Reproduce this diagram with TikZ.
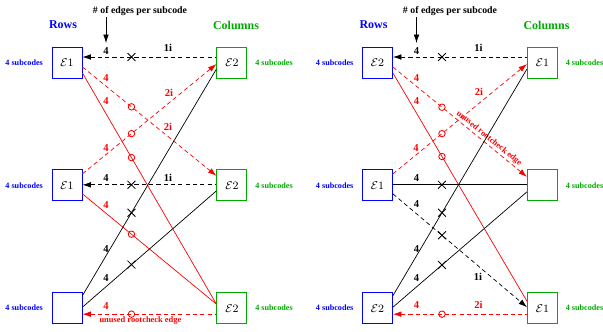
\documentclass[tikz,border=0pt]{standalone}
\usepackage{fontspec}
\setmainfont{Liberation Serif}
\usetikzlibrary{positioning,arrows.meta,shapes.misc,calc}

\definecolor{rowblue}{RGB}{0,0,255}
\definecolor{colgreen}{RGB}{0,170,0}

\tikzset{
  rowbox/.style={draw=rowblue, line width=0.65pt, minimum width=21.3pt, minimum height=22pt,
    inner sep=0pt, font=\fontsize{8.5}{9}\selectfont},
  colbox/.style={rowbox, draw=colgreen},
  headtxt/.style={font=\fontsize{8.5}{10}\selectfont\bfseries, inner sep=0pt},
  toptxt/.style={font=\fontsize{7}{8}\selectfont\bfseries, inner sep=1pt},
  subc/.style={font=\fontsize{5.8}{7}\selectfont\bfseries, inner sep=0pt},
  lbl/.style={font=\fontsize{7.5}{8}\selectfont\bfseries, inner sep=1pt},
  unused/.style={font=\fontsize{6}{7}\selectfont\bfseries, inner sep=1pt, text=red},
  wire/.style={line width=0.5pt},
  dashwire/.style={wire, dash pattern=on 3pt off 2.2pt},
  fwdtip/.style={-{Latex[length=6pt,width=4pt]}},
  backtip/.style={{Latex[length=6pt,width=4pt]}-},
  xmark/.style={draw=black, solid, cross out, minimum size=5pt, inner sep=0pt, line width=0.6pt},
  omark/.style={draw=red, solid, circle, minimum size=4.6pt, inner sep=0pt, line width=0.6pt},
}

\begin{document}
\begin{tikzpicture}[x=0.025cm, y=-0.025cm]
\useasboundingbox (0,0) rectangle (603,331);

%% LEFT PANEL
\node[rowbox] (rowA1) at (67,62.5) {$\mathcal{E}1$};
\node[rowbox, below=64.7pt of rowA1] (rowA2) {$\mathcal{E}1$};
\node[rowbox, below=64.7pt of rowA2] (rowA3) {};
\node[colbox, right=95.3pt of rowA1] (colA1) {$\mathcal{E}2$};
\node[colbox, right=95.3pt of rowA2] (colA2) {$\mathcal{E}2$};
\node[colbox, right=95.3pt of rowA3] (colA3) {$\mathcal{E}2$};

\node[headtxt, text=rowblue] (rowsA) at (63,25) {Rows};
\node[headtxt, text=colgreen] (colsA) at (236,25) {Columns};
\node[toptxt] (hdrA) at (140,11) {\# of edges per subcode};
\foreach \i in {1,2,3} {
  \node[subc, text=rowblue, left=6pt of rowA\i] (subrA\i) {4 subcodes};
  \node[subc, text=colgreen, right=5.5pt of colA\i] (subcA\i) {4 subcodes};
}

% edge labels
\node[lbl] (lA1) at (106,51) {4};
\node[lbl, text=red] (lA2) at (106,78) {4};
\node[lbl, text=red] (lA3) at (106,101) {4};
\node[lbl, text=red] (lA4) at (106,148) {4};
\node[lbl] (lA5) at (106,178) {4};
\node[lbl, text=red] (lA6) at (106,205) {4};
\node[lbl] (lA7) at (106,249) {4};
\node[lbl] (lA8) at (106,278) {4};
\node[lbl, text=red] (lA9) at (106,306) {4};
\node[lbl] (iA1) at (168,48) {1i};
\node[lbl, text=red] (iA2) at (169,93) {2i};
\node[lbl, text=red] (iA3) at (168,127) {2i};
\node[lbl] (iA4) at (168,178) {1i};

\draw[wire, fwdtip, shorten >=2pt] (hdrA.south -| lA1) -- (lA1.north);

% edges
\draw[dashwire, backtip] ($(rowA1.east)+(0,-5.5)$) -- ($(colA1.west)+(0,-5.5)$) node[pos=.366, xmark] (mA1) {};
\draw[dashwire, fwdtip, red] ($(rowA1.east)+(0,4.5)$) -- ($(colA2.west)+(0,-9.5)$) node[pos=.366, omark] (mA2) {};
\draw[wire, red] ($(rowA1.east)+(0,10.5)$) -- ($(colA3.west)+(0,-4)$) node[pos=.366, omark] (mA3) {};
\draw[dashwire, fwdtip, red] ($(rowA2.east)+(0,-11.5)$) -- ($(colA1.west)+(0,1.5)$) node[pos=.366, omark] (mA4) {};
\draw[dashwire, backtip] ($(rowA2.east)+(0,-0.5)$) -- ($(colA2.west)+(0,-0.5)$) node[pos=.366, xmark] (mA5) {};
\draw[wire, red] ($(rowA2.east)+(0,8.5)$) -- ($(colA3.west)+(0,-4)$) node[pos=.366, omark] (mA6) {};
\draw[wire] ($(rowA3.east)+(0,-12.5)$) -- ($(colA1.west)+(0,6.5)$) node[pos=.366, xmark] (mA7) {};
\draw[wire] ($(rowA3.east)+(0,-1)$) -- ($(colA2.west)+(0,5.5)$) node[pos=.366, xmark] (mA8) {};
\draw[dashwire, backtip, red] ($(rowA3.east)+(0,6)$) -- ($(colA3.west)+(0,6)$)
  node[pos=.366, omark] (mA9) {}
  node[pos=.433, below=0.5pt, unused] (uA) {unused rootcheck edge};

%% RIGHT PANEL
\node[rowbox] (rowB1) at (377.5,62.5) {$\mathcal{E}2$};
\node[rowbox, below=64.7pt of rowB1] (rowB2) {$\mathcal{E}1$};
\node[rowbox, below=64.7pt of rowB2] (rowB3) {$\mathcal{E}2$};
\node[colbox, right=95.3pt of rowB1] (colB1) {$\mathcal{E}1$};
\node[colbox, right=95.3pt of rowB2] (colB2) {};
\node[colbox, right=95.3pt of rowB3] (colB3) {$\mathcal{E}1$};

\node[headtxt, text=rowblue] (rowsB) at (373.5,25) {Rows};
\node[headtxt, text=colgreen] (colsB) at (546.5,25) {Columns};
\node[toptxt] (hdrB) at (450,11) {\# of edges per subcode};
\foreach \i in {1,2,3} {
  \node[subc, text=rowblue, left=6pt of rowB\i] (subrB\i) {4 subcodes};
  \node[subc, text=colgreen, right=5.5pt of colB\i] (subcB\i) {4 subcodes};
}

% edge labels
\node[lbl] (lB1) at (416.5,51) {4};
\node[lbl, text=red] (lB2) at (416.5,78) {4};
\node[lbl, text=red] (lB3) at (416.5,101) {4};
\node[lbl, text=red] (lB4) at (416,148) {4};
\node[lbl] (lB5) at (416.5,178) {4};
\node[lbl] (lB6) at (416.5,204) {4};
\node[lbl] (lB7) at (416.5,249) {4};
\node[lbl] (lB8) at (416.5,278) {4};
\node[lbl, text=red] (lB9) at (416.5,305) {4};
\node[lbl] (iB1) at (478.5,48) {1i};
\node[lbl, text=red] (iB2) at (479,92) {2i};
\node[lbl] (iB3) at (478,277) {1i};
\node[lbl, text=red] (iB4) at (478.5,305) {2i};

\draw[wire, fwdtip, shorten >=2pt] (hdrB.south -| lB1) -- (lB1.north);

% edges
\draw[dashwire, backtip] ($(rowB1.east)+(0,-5.5)$) -- ($(colB1.west)+(0,-5.5)$) node[pos=.366, xmark] (mB1) {};
\draw[dashwire, fwdtip, red] ($(rowB1.east)+(0,4.5)$) -- ($(colB2.west)+(0,-8.5)$)
  node[pos=.366, omark] (mB2) {}
  node[pos=.69, sloped, above, unused] (uB) {unused rootcheck edge};
\draw[wire, red] ($(rowB1.east)+(0,10.5)$) -- ($(colB3.west)+(0,-7)$) node[pos=.366, omark] (mB3) {};
\draw[dashwire, fwdtip, red] ($(rowB2.east)+(0,-11.5)$) -- ($(colB1.west)+(0,1.5)$) node[pos=.366, omark] (mB4) {};
\draw[wire] ($(rowB2.east)+(0,-0.5)$) -- ($(colB2.west)+(0,-0.5)$) node[pos=.366, xmark] (mB5) {};
\draw[dashwire, fwdtip] ($(rowB2.east)+(0,8.5)$) -- ($(colB3.west)+(0,-1)$) node[pos=.366, xmark] (mB6) {};
\draw[wire] ($(rowB3.east)+(0,-12.5)$) -- ($(colB1.west)+(0,6.5)$) node[pos=.366, xmark] (mB7) {};
\draw[wire] ($(rowB3.east)+(0,-1)$) -- ($(colB2.west)+(0,6.5)$) node[pos=.366, xmark] (mB8) {};
\draw[dashwire, backtip, red] ($(rowB3.east)+(0,6)$) -- ($(colB3.west)+(0,6)$) node[pos=.366, omark] (mB9) {};

\end{tikzpicture}
\end{document}
